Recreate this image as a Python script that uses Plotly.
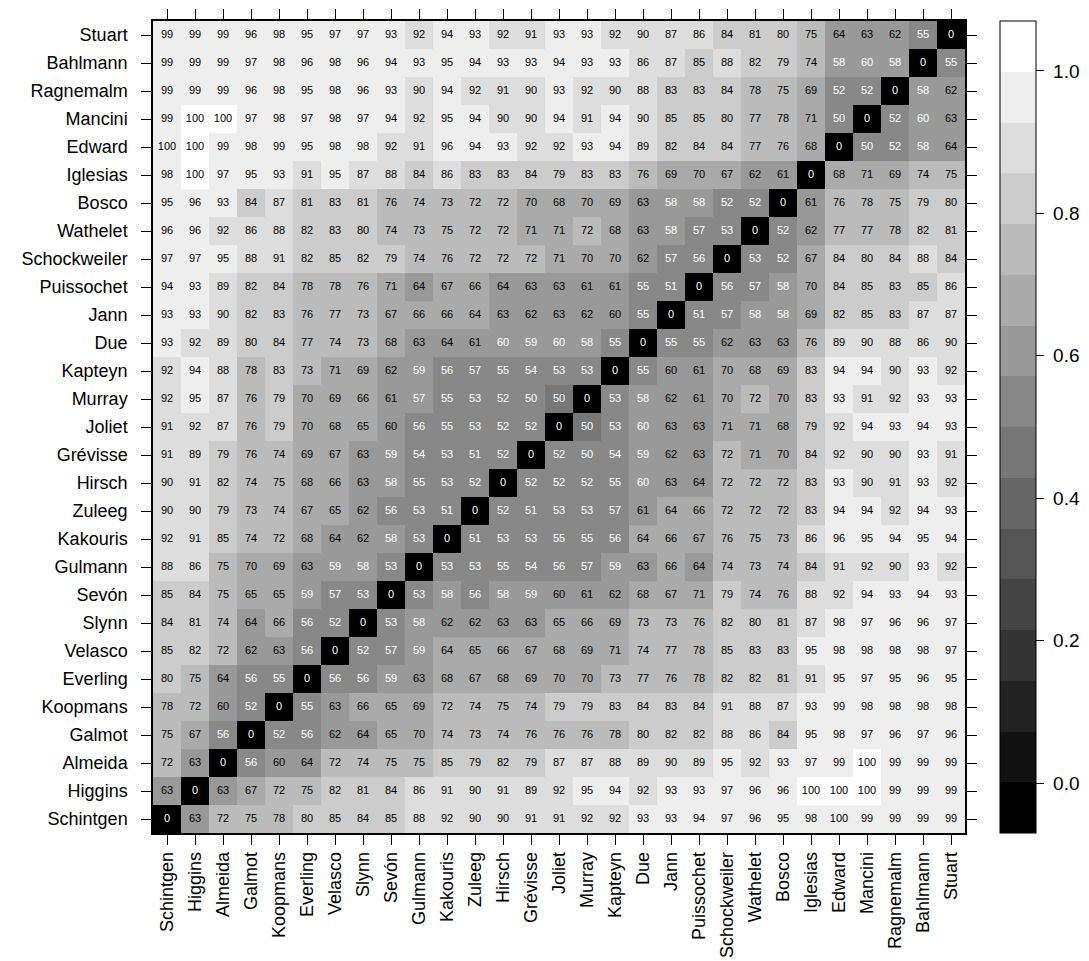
import plotly.graph_objects as go

# Judges, listed top to bottom as rows (columns use the reverse order)
row_names = ["Stuart", "Bahlmann", "Ragnemalm", "Mancini", "Edward", "Iglesias", "Bosco",
             "Wathelet", "Schockweiler", "Puissochet", "Jann", "Due", "Kapteyn", "Murray",
             "Joliet", "Grévisse", "Hirsch", "Zuleeg", "Kakouris", "Gulmann", "Sevón", "Slynn",
             "Velasco", "Everling", "Koopmans", "Galmot", "Almeida", "Higgins", "Schintgen"]
col_names = row_names[::-1]

# Dissimilarity (percent) per row; columns Schintgen ... Stuart
stuart = [99, 99, 99, 96, 98, 95, 97, 97, 93, 92, 94, 93, 92, 91, 93, 93, 92, 90, 87, 86, 84, 81, 80, 75, 64, 63, 62, 55, 0]
bahlmann = [99, 99, 99, 97, 98, 96, 98, 96, 94, 93, 95, 94, 93, 93, 94, 93, 93, 86, 87, 85, 88, 82, 79, 74, 58, 59.7, 58, 0, 55]
ragnemalm = [99, 99, 99, 96, 98, 95, 98, 96, 93, 90, 94, 92, 91, 90, 93, 92, 90, 88, 83, 83, 84, 78, 75, 69, 52, 52, 0, 58, 62]
mancini = [99, 100, 100, 97, 98, 97, 98, 97, 94, 92, 95, 94, 90, 90, 94, 91, 94, 90, 85, 85, 80, 77, 78, 71, 50, 0, 52, 59.7, 63]
edward = [99.7, 100, 99, 98, 99, 95, 98, 98, 92, 91, 96, 94, 93, 92, 92, 93, 94, 89, 82, 84, 84, 77, 76, 68, 0, 50, 52, 58, 64]
iglesias = [98, 100, 97, 95, 93, 91, 95, 87, 88, 84, 86, 83, 83, 84, 79, 83, 83, 76, 69, 70, 67, 62, 61, 0, 68, 71, 69, 74, 75]
bosco = [95, 96, 93, 84, 87, 81, 83, 81, 76, 74, 73, 72, 72, 70, 68, 70, 69, 63, 58, 58, 52, 52, 0, 61, 76, 78, 75, 79, 80]
wathelet = [96, 96, 92, 86, 88, 82, 83, 80, 74, 73, 75, 72, 72, 71, 71, 72, 68, 63, 58, 57, 53, 0, 52, 62, 77, 77, 78, 82, 81]
schockweiler = [97, 97, 95, 88, 91, 82, 85, 82, 79, 74, 76, 72, 72, 72, 71, 70, 70, 62, 57, 56, 0, 53, 52, 67, 84, 80, 84, 88, 84]
puissochet = [94, 93, 89, 82, 84, 78, 78, 76, 71, 64, 67, 66, 64, 63, 63, 61, 61, 55, 51, 0, 56, 57, 58, 70, 84, 85, 83, 85, 86]
jann = [93, 93, 90, 82, 83, 76, 77, 73, 67, 66, 66, 64.4, 63, 62, 63, 62, 60, 55, 0, 51, 57, 58, 58, 69, 82, 85, 83, 87, 87]
due = [93, 92, 89, 80, 84, 77, 74, 73, 68, 63, 64, 61, 59.7, 59, 59.7, 58, 55, 0, 55, 55, 62, 63, 63, 76, 89, 90, 88, 86, 90]
kapteyn = [92, 94, 88, 78, 83, 73, 71, 69, 62, 59, 56, 57, 55, 54, 53, 53, 0, 55, 60, 61, 70, 68, 69, 83, 94, 94, 90, 93, 92]
murray = [92, 95, 87, 76, 79, 70, 69, 66, 61, 57.3, 55, 53, 52, 50, 49.7, 0, 53, 58, 62, 61, 70, 72, 70, 83, 93, 91, 92, 93, 93]
joliet = [91, 92, 87, 76, 79, 70, 68, 65, 60, 56, 55, 53, 52, 52, 0, 49.7, 53, 59.7, 63, 63, 71, 71, 68, 79, 92, 94, 93, 94, 93]
grevisse = [91, 89, 79, 76, 74, 69, 67, 63, 59, 54, 53, 51, 52, 0, 52, 50, 54, 59, 62, 63, 72, 71, 70, 84, 92, 90, 90, 93, 91]
hirsch = [90, 91, 82, 74, 75, 68, 66, 63, 58, 55, 53, 52, 0, 52, 52, 52, 55, 59.7, 63, 64, 72, 72, 72, 83, 93, 90, 91, 93, 92]
zuleeg = [90, 90, 79, 73, 74, 67, 65, 62, 56, 53, 51, 0, 52, 51, 53, 53, 57, 61, 64.4, 66, 72, 72, 72, 83, 94, 94, 92, 94, 93]
kakouris = [92, 91, 85, 74, 72, 68, 64, 62, 58, 53, 0, 51, 53, 53, 55, 55, 56, 64.4, 66, 67, 76, 75, 73, 86, 96, 95, 94, 95, 94]
gulmann = [88, 86, 75, 70, 69, 63, 59, 58, 53, 0, 53, 53, 55, 54, 56, 57, 59, 63, 66, 64, 74, 73, 74, 84, 91, 92, 90, 93, 92]
sevon = [85, 84, 75, 65, 65, 59, 57, 53, 0, 53, 58, 56, 58, 59, 60, 61, 62, 68, 67, 71, 79, 74, 76, 88, 92, 94, 93, 94, 93]
slynn = [84, 81, 74, 64, 66, 56, 52, 0, 53, 58, 62, 62, 63, 63, 65, 66, 69, 73, 73, 76, 82, 80, 81, 87, 98, 97, 96, 96, 97]
velasco = [85, 82, 72, 62, 63, 56, 0, 52, 57, 59, 64.4, 65, 66, 67, 68, 69, 71, 74, 77, 78, 85, 83, 83, 95, 98, 98, 98, 98, 97]
everling = [80, 75, 64, 56, 55, 0, 56, 56, 59, 63, 68, 67, 68, 69, 70, 70, 73, 77, 76, 78, 82, 82, 81, 91, 95, 97, 95, 96, 95]
koopmans = [78, 72, 60, 52, 0, 55, 63, 66, 65, 69, 72, 74, 75, 74, 79, 79, 83, 84, 83, 84, 91, 88, 87, 93, 99, 98, 98, 98, 98]
galmot = [75, 67, 56, 0, 52, 56, 62, 64, 65, 70, 74, 73, 74, 76, 76, 76, 78, 80, 82, 82, 88, 86, 84, 95, 98, 97, 96, 97, 96]
almeida = [72, 63, 0, 56, 60, 64, 72, 74, 75, 75, 85, 79, 82, 79, 87, 87, 88, 89, 90, 89, 95, 92, 93, 97, 99, 100, 99, 99, 99]
higgins = [63, 0, 63, 67, 72, 75, 82, 81, 84, 86, 91, 90, 91, 89, 92, 95, 94, 92, 93, 93, 97, 96, 96, 100, 100, 100, 99, 99, 99]
schintgen = [0, 63, 72, 75, 78, 80, 85, 84, 85, 88, 92, 90, 90, 91, 91, 92, 92, 93, 93, 94, 97, 96, 95, 98, 99.7, 99, 99, 99, 99]

rows = [stuart, bahlmann, ragnemalm, mancini, edward, iglesias, bosco, wathelet, schockweiler,
        puissochet, jann, due, kapteyn, murray, joliet, grevisse, hirsch, zuleeg, kakouris,
        gulmann, sevon, slynn, velasco, everling, koopmans, galmot, almeida, higgins, schintgen]

cbar_ticks = [0.0, 0.2, 0.4, 0.6, 0.8, 1.0]
cbar_labels = ["0.0", "0.2", "0.4", "0.6", "0.8", "1.0"]

# ---- build figure ----
zmin, zmax, nlev = -0.07, 1.07, 16
colorscale = []
for k in range(nlev):
    g = round(255 * k / (nlev - 1))
    c = f"rgb({g},{g},{g})"
    colorscale.append([k / nlev, c])
    colorscale.append([(k + 1) / nlev, c])

y_order = row_names[::-1]
z = [[v / 100 for v in rows[row_names.index(n)]] for n in y_order]

tx, ty, tt, tc = [], [], [], []
for rn, vals in zip(row_names, rows):
    for cn, v in zip(col_names, vals):
        tx.append(cn)
        ty.append(rn)
        tt.append(str(int(round(v))))
        tc.append("white" if v < 60 else "black")

FONT = "Liberation Sans, Arial, sans-serif"

fig = go.Figure()
fig.add_trace(go.Heatmap(
    x=col_names, y=y_order, z=z, zmin=zmin, zmax=zmax, colorscale=colorscale,
    hoverinfo="skip",
    colorbar=dict(
        x=1.0431, xanchor="left", xpad=0, y=0.5, yanchor="middle", ypad=0,
        len=812, lenmode="pixels", thickness=36, thicknessmode="pixels",
        outlinecolor="black", outlinewidth=1,
        tickvals=cbar_ticks, ticktext=[" " + s for s in cbar_labels],
        ticks="outside", ticklen=8,
        tickcolor="black", tickfont=dict(family=FONT, size=19, color="black"),
    ),
))
fig.add_trace(go.Scatter(
    x=tx, y=ty, text=tt, mode="text", hoverinfo="skip", showlegend=False,
    textfont=dict(family=FONT, size=11, color=tc),
))

axis_common = dict(
    type="category", showline=True, linecolor="black", linewidth=1.5, mirror="ticks",
    ticks="outside", ticklen=10, tickcolor="black", tickwidth=1,
    showgrid=False, zeroline=False, automargin=False,
    tickfont=dict(family=FONT, size=18, color="black"),
)
fig.update_xaxes(**axis_common, categoryorder="array", categoryarray=col_names,
                 range=[-0.5, 28.5], tickangle=-90, ticklabelstandoff=0)
fig.update_yaxes(**axis_common, categoryorder="array", categoryarray=y_order,
                 range=[-0.5, 28.5], ticklabelstandoff=10)

fig.update_layout(
    template="none",
    width=1089, height=961, autosize=False,
    margin=dict(l=145, r=132, t=13, b=136, pad=0, autoexpand=False),
    paper_bgcolor="white", plot_bgcolor="white",
    font=dict(family=FONT, color="black"),
    showlegend=False,
)

fig.write_html("out.html")
